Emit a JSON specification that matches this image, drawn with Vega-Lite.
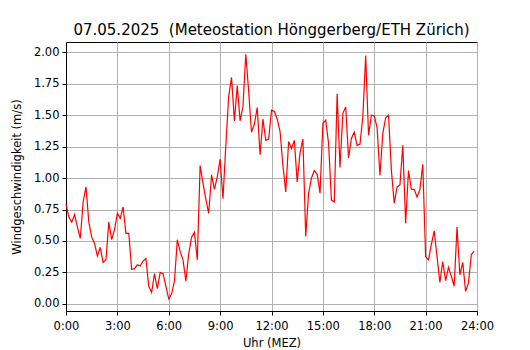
{
  "$schema": "https://vega.github.io/schema/vega-lite/v6.json",
  "autosize": {"type": "none"},
  "padding": {"left": 66, "top": 42, "right": 53, "bottom": 39},
  "width": 411,
  "height": 269,
  "background": "white",
  "title": {
    "text": "07.05.2025\u00a0 (Meteostation Hönggerberg/ETH Zürich)",
    "font": "DejaVu Sans",
    "fontSize": 15,
    "fontWeight": "normal",
    "color": "black",
    "anchor": "middle",
    "offset": 4
  },
  "data": {
    "values": [
      {"min": 0, "v": 0.79}, {"min": 10, "v": 0.69}, {"min": 20, "v": 0.65}, {"min": 30, "v": 0.71}, {"min": 40, "v": 0.61}, {"min": 50, "v": 0.52},
      {"min": 60, "v": 0.81}, {"min": 70, "v": 0.93}, {"min": 80, "v": 0.65}, {"min": 90, "v": 0.53}, {"min": 100, "v": 0.48}, {"min": 110, "v": 0.38},
      {"min": 120, "v": 0.45}, {"min": 130, "v": 0.33}, {"min": 140, "v": 0.35}, {"min": 150, "v": 0.65}, {"min": 160, "v": 0.51}, {"min": 170, "v": 0.59},
      {"min": 180, "v": 0.72}, {"min": 190, "v": 0.68}, {"min": 200, "v": 0.77}, {"min": 210, "v": 0.56}, {"min": 220, "v": 0.56}, {"min": 230, "v": 0.275},
      {"min": 240, "v": 0.28}, {"min": 250, "v": 0.31}, {"min": 260, "v": 0.30}, {"min": 270, "v": 0.34}, {"min": 280, "v": 0.36}, {"min": 290, "v": 0.14},
      {"min": 300, "v": 0.09}, {"min": 310, "v": 0.24}, {"min": 320, "v": 0.12}, {"min": 330, "v": 0.25}, {"min": 340, "v": 0.24}, {"min": 350, "v": 0.14},
      {"min": 360, "v": 0.04}, {"min": 370, "v": 0.08}, {"min": 380, "v": 0.18}, {"min": 390, "v": 0.51}, {"min": 400, "v": 0.415}, {"min": 410, "v": 0.35},
      {"min": 420, "v": 0.18}, {"min": 430, "v": 0.40}, {"min": 440, "v": 0.53}, {"min": 450, "v": 0.57}, {"min": 460, "v": 0.35}, {"min": 470, "v": 1.10},
      {"min": 480, "v": 0.96}, {"min": 490, "v": 0.83}, {"min": 500, "v": 0.72}, {"min": 510, "v": 1.025}, {"min": 520, "v": 0.91}, {"min": 530, "v": 1.01},
      {"min": 540, "v": 1.15}, {"min": 550, "v": 0.835}, {"min": 560, "v": 1.26}, {"min": 570, "v": 1.65}, {"min": 580, "v": 1.80}, {"min": 590, "v": 1.455},
      {"min": 600, "v": 1.735}, {"min": 610, "v": 1.455}, {"min": 620, "v": 1.57}, {"min": 630, "v": 1.985}, {"min": 640, "v": 1.69}, {"min": 650, "v": 1.365},
      {"min": 660, "v": 1.43}, {"min": 670, "v": 1.56}, {"min": 680, "v": 1.185}, {"min": 690, "v": 1.47}, {"min": 700, "v": 1.30}, {"min": 710, "v": 1.31},
      {"min": 720, "v": 1.54}, {"min": 730, "v": 1.53}, {"min": 740, "v": 1.47}, {"min": 750, "v": 1.37}, {"min": 760, "v": 1.10}, {"min": 770, "v": 0.89},
      {"min": 780, "v": 1.29}, {"min": 790, "v": 1.235}, {"min": 800, "v": 1.30}, {"min": 810, "v": 0.97}, {"min": 820, "v": 1.20}, {"min": 830, "v": 1.31},
      {"min": 840, "v": 0.535}, {"min": 850, "v": 0.88}, {"min": 860, "v": 1.00}, {"min": 870, "v": 1.06}, {"min": 880, "v": 1.03}, {"min": 890, "v": 0.88},
      {"min": 900, "v": 1.435}, {"min": 910, "v": 1.46}, {"min": 920, "v": 1.275}, {"min": 930, "v": 0.825}, {"min": 940, "v": 0.81}, {"min": 950, "v": 1.67},
      {"min": 960, "v": 1.085}, {"min": 970, "v": 1.515}, {"min": 980, "v": 1.565}, {"min": 990, "v": 1.16}, {"min": 1000, "v": 1.315}, {"min": 1010, "v": 1.365},
      {"min": 1020, "v": 1.26}, {"min": 1030, "v": 1.27}, {"min": 1040, "v": 1.49}, {"min": 1050, "v": 1.975}, {"min": 1060, "v": 1.34}, {"min": 1070, "v": 1.50},
      {"min": 1080, "v": 1.495}, {"min": 1090, "v": 1.40}, {"min": 1100, "v": 1.02}, {"min": 1110, "v": 1.355}, {"min": 1120, "v": 1.48}, {"min": 1130, "v": 1.50},
      {"min": 1140, "v": 1.065}, {"min": 1150, "v": 0.80}, {"min": 1160, "v": 0.93}, {"min": 1170, "v": 0.945}, {"min": 1180, "v": 1.26}, {"min": 1190, "v": 0.64},
      {"min": 1200, "v": 1.06}, {"min": 1210, "v": 0.91}, {"min": 1220, "v": 0.91}, {"min": 1230, "v": 0.85}, {"min": 1240, "v": 0.91}, {"min": 1250, "v": 1.11},
      {"min": 1260, "v": 0.375}, {"min": 1270, "v": 0.35}, {"min": 1280, "v": 0.47}, {"min": 1290, "v": 0.58}, {"min": 1300, "v": 0.375}, {"min": 1310, "v": 0.17},
      {"min": 1320, "v": 0.335}, {"min": 1330, "v": 0.185}, {"min": 1340, "v": 0.29}, {"min": 1350, "v": 0.22}, {"min": 1360, "v": 0.14}, {"min": 1370, "v": 0.61},
      {"min": 1380, "v": 0.23}, {"min": 1390, "v": 0.33}, {"min": 1400, "v": 0.10}, {"min": 1410, "v": 0.165}, {"min": 1420, "v": 0.39}, {"min": 1430, "v": 0.42}
    ]
  },
  "mark": {"type": "line", "color": "#ff0000", "strokeWidth": 1.2},
  "encoding": {
    "x": {
      "field": "min",
      "type": "quantitative",
      "scale": {"domain": [0, 1440], "nice": false, "zero": false},
      "axis": {
        "values": [0, 180, 360, 540, 720, 900, 1080, 1260, 1440],
        "labelExpr": "floor(datum.value / 60) + ':00'",
        "title": "Uhr (MEZ)",
        "labelPadding": 5,
        "titlePadding": 6
      }
    },
    "y": {
      "field": "v",
      "type": "quantitative",
      "scale": {"domain": [-0.057, 2.082], "nice": false, "zero": false},
      "axis": {
        "values": [0, 0.25, 0.5, 0.75, 1, 1.25, 1.5, 1.75, 2],
        "format": ".2f",
        "title": "Windgeschwindigkeit (m/s)",
        "labelPadding": 3,
        "titlePadding": 11
      }
    }
  },
  "config": {
    "view": {"stroke": "black", "strokeWidth": 1},
    "axis": {
      "domainColor": "black",
      "domainWidth": 1,
      "tickColor": "black",
      "tickWidth": 1,
      "tickSize": 4,
      "labelFont": "DejaVu Sans",
      "labelFontSize": 11.5,
      "labelColor": "black",
      "titleFont": "DejaVu Sans",
      "titleFontSize": 11.5,
      "titleFontWeight": "normal",
      "titleColor": "black",
      "grid": true,
      "gridColor": "#b0b0b0",
      "gridWidth": 1,
      "labelFlush": false,
      "labelOverlap": false
    }
  }
}
